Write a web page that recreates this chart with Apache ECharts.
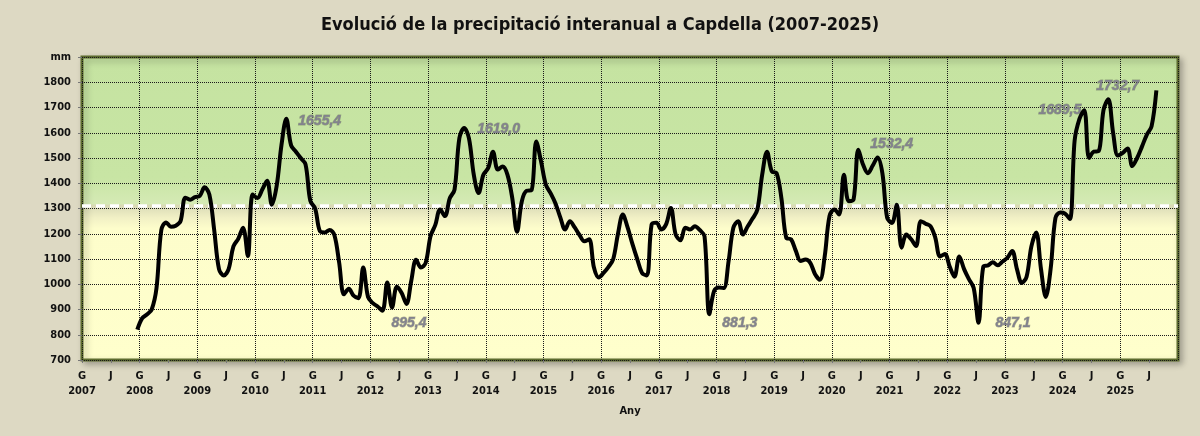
<!DOCTYPE html>
<html>
<head>
<meta charset="utf-8">
<title>Capdella</title>
<script src="https://cdn.jsdelivr.net/npm/echarts@6/dist/echarts.min.js"></script>
<style>
  html, body { margin: 0; padding: 0; background: #ddd9c3; }
  #chart { width: 1200px; height: 436px; }
</style>
</head>
<body>
<div id="chart"></div>
<script>
// rolling 12-month precipitation (mm), monthly, first value = Dec 2007
var firstMonth = 11;   // months counted from Jan 2007
var values = [
  820,
  865, 880, 900, 985, 1215, 1245, 1228, 1232, 1250, 1343, 1335, 1345,        // 2008
  1350, 1384, 1355, 1215, 1060, 1035, 1060, 1150, 1180, 1224, 1112, 1355,    // 2009
  1342, 1375, 1410, 1315, 1390, 1552, 1655.4, 1550, 1525, 1500, 1475, 1330,  // 2010
  1300, 1210, 1205, 1215, 1195, 1085, 960, 982, 955, 945, 1066, 950,         // 2011
  925, 912, 895.4, 1007, 908, 990, 965, 922, 1014, 1097, 1066, 1085,         // 2012
  1190, 1235, 1296, 1270, 1340, 1375, 1578, 1619.0, 1578, 1434, 1361, 1434,  // 2013
  1460, 1525, 1454, 1466, 1434, 1342, 1208, 1329, 1370, 1372, 1565, 1486,    // 2014
  1394, 1360, 1320, 1265, 1217, 1250, 1225, 1195, 1170, 1178, 1066, 1027,    // 2015
  1045, 1068, 1099, 1200, 1276, 1225, 1160, 1100, 1045, 1035, 1237, 1244,    // 2016
  1217, 1237, 1302, 1197, 1174, 1224, 1217, 1230, 1215, 1190, 881.3, 974,    // 2017
  987, 985, 1090, 1224, 1250, 1197, 1230, 1260, 1296, 1434, 1525, 1447,      // 2018
  1440, 1340, 1184, 1178, 1132, 1092, 1098, 1085, 1040, 1018, 1110, 1270,    // 2019
  1296, 1276, 1434, 1329, 1335, 1532.4, 1473, 1440, 1470, 1502, 1440, 1263,  // 2020
  1243, 1315, 1145, 1197, 1178, 1151, 1250, 1240, 1230, 1185, 1110, 1120,    // 2021
  1070, 1030, 1110, 1060, 1020, 985, 847.1, 1070, 1075, 1087, 1075, 1090,    // 2022
  1105, 1132, 1060, 1005, 1030, 1150, 1205, 1060, 950, 1060, 1262, 1284,     // 2023
  1280, 1258, 1570, 1655, 1689.5, 1500, 1525, 1527, 1690, 1732.7, 1600, 1510, // 2024
  1520, 1538, 1468, 1500, 1545, 1592, 1625, 1768                             // 2025
];

// labelled extremes (index into values)
var markIdx = [42 - 11, 62 - 11, 79 - 11, 130 - 11, 161 - 11, 186 - 11, 208 - 11, 213 - 11];
var meanLine = 1312;

// label placement for each mark (px)
var markAlign = ['left', 'left', 'left', 'left', 'left', 'left', 'right', 'left'];
var markOffset = [[12, 2], [9, 12], [13, 1], [13, 9], [12, -6], [17, 0], [-3, 0], [-12, -13]];

var font = 'Tahoma, "DejaVu Sans Condensed", "Liberation Sans", sans-serif';

function xOf(i) {
  return 2007 + (firstMonth + i + 0.5) / 12;
}

var lineData = values.map(function (v, i) { return [xOf(i), v]; });

var marks = markIdx.map(function (i, k) {
  return {
    coord: [xOf(i), values[i]],
    value: values[i],
    label: { align: markAlign[k], offset: markOffset[k] }
  };
});

var chart = echarts.init(document.getElementById('chart'));

var option = {
  backgroundColor: '#ddd9c3',
  animation: false,
  title: {
    text: 'Evolució de la precipitació interanual a Capdella (2007-2025)',
    left: 'center',
    top: 11,
    textStyle: { fontFamily: font, fontWeight: 'bold', fontSize: 18, color: '#111' }
  },
  grid: {
    left: 82, right: 22, top: 57, bottom: 76,
    show: true,
    borderColor: '#5c6b2e',
    borderWidth: 3,
    shadowColor: 'rgba(0,0,0,0.25)',
    shadowBlur: 6,
    shadowOffsetX: 3,
    shadowOffsetY: 3,
    backgroundColor: new echarts.graphic.LinearGradient(0, 0, 0, 1, [
      { offset: 0, color: '#c5e3a1' },
      { offset: 0.40, color: '#c8e5a4' },
      { offset: 0.484, color: '#d5eab5' },
      { offset: 0.49, color: '#d9dab6' },
      { offset: 0.53, color: '#f1f0c5' },
      { offset: 0.565, color: '#fdfdcb' },
      { offset: 1, color: '#ffffcc' }
    ])
  },
  xAxis: [
    {
      type: 'value',
      min: 2007, max: 2026, interval: 0.5,
      name: 'Any',
      nameLocation: 'middle',
      nameGap: 46,
      nameTextStyle: { fontFamily: font, fontWeight: 'bold', fontSize: 11, color: '#111' },
      axisLine: { show: false },
      axisTick: { show: true, length: 3, lineStyle: { color: '#777' } },
      splitLine: { show: false },
      axisLabel: {
        fontFamily: font, fontWeight: 'bold', fontSize: 11, color: '#111',
        margin: 9, lineHeight: 15,
        showMaxLabel: false,
        formatter: function (v) {
          if (v >= 2026) return '';
          var y = Math.floor(v + 1e-6);
          return (v - y < 0.25) ? 'G\n' + y : 'J';
        }
      }
    },
    {
      type: 'value',
      min: 2007, max: 2026, interval: 1,
      position: 'bottom',
      axisLine: { show: false },
      axisTick: { show: false },
      axisLabel: { show: false },
      splitLine: { show: true, lineStyle: { type: 'dotted', color: '#1a1a1a', width: 1 } }
    }
  ],
  yAxis: {
    type: 'value',
    min: 700, max: 1900, interval: 100,
    axisLine: { show: false },
    axisTick: { show: true, length: 4, lineStyle: { color: '#777' } },
    axisLabel: {
      fontFamily: font, fontWeight: 'bold', fontSize: 11, color: '#111', margin: 11,
      formatter: function (v) { return v === 1900 ? 'mm' : String(v); }
    },
    splitLine: { show: true, lineStyle: { type: 'dotted', color: '#1a1a1a', width: 1 } }
  },
  series: [
    {
      type: 'line',
      data: lineData,
      smooth: 0.35,
      symbol: 'none',
      lineStyle: { color: '#000', width: 4 },
      z: 5,
      markLine: {
        silent: true,
        symbol: ['none', 'none'],
        label: { show: false },
        lineStyle: { color: '#ffffff', type: [9, 5], width: 3.5, opacity: 1 },
        data: [{ yAxis: meanLine }],
        z: 3
      },
      markPoint: {
        symbol: 'circle',
        symbolSize: 0,
        data: marks,
        label: {
          show: true,
          position: 'inside',
          verticalAlign: 'middle',
          fontFamily: '"Liberation Sans", Arial, sans-serif',
          fontStyle: 'italic',
          fontWeight: 'bold',
          fontSize: 14,
          color: '#82828d',
          textBorderColor: 'rgba(70,70,70,0.4)',
          textBorderWidth: 1,
          formatter: function (p) { return p.value.toFixed(1).replace('.', ','); }
        }
      }
    }
  ]
};

chart.setOption(option);
</script>
</body>
</html>
